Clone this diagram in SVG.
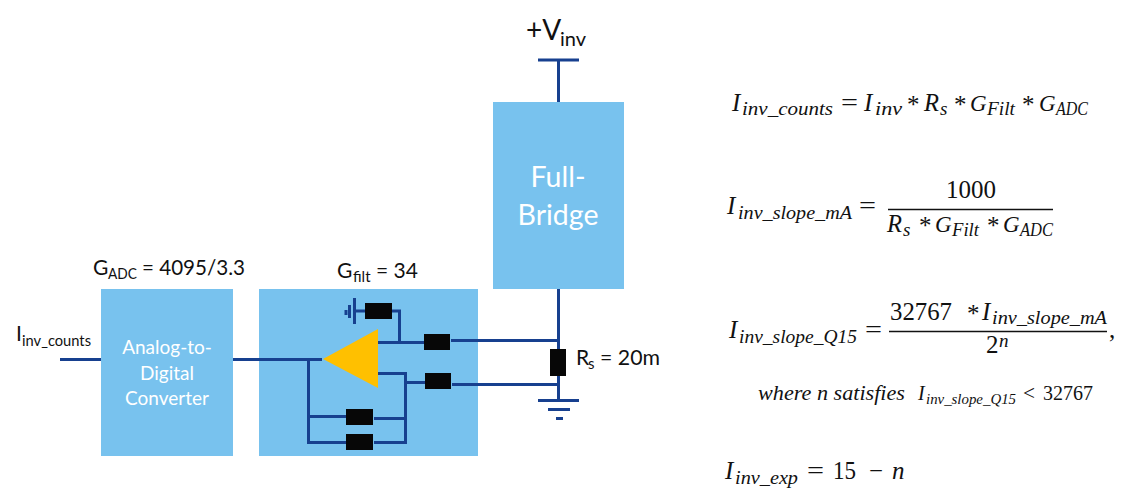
<svg xmlns="http://www.w3.org/2000/svg" width="1132" height="500" viewBox="0 0 1132 500">
<style>
.box{fill:#78c2ee}
.w{fill:none;stroke:#17408f;stroke-width:3}
.r{fill:#070707}
.t{font-family:Lato,"Open Sans",sans-serif;fill:#111}
.l{font-size:21px}
.s{font-size:15px}
.wt{font-family:Lato,"Open Sans",sans-serif;fill:#fff;text-anchor:middle}
.m{font-family:"Liberation Serif",serif;fill:#111}
.i{font-style:italic}
.b{font-size:25px}
.g{font-size:23px}
.u{font-size:19px}
.q{font-size:20px}
.v{font-size:15px}
.fl{stroke:#111;stroke-width:1.3}
</style>
<rect width="1132" height="500" fill="#fff"/>
<g id="adc"><rect class="box" x="101" y="289" width="132" height="167"/>
<text class="wt" font-size="19"><tspan x="167" y="354">Analog-to-</tspan><tspan x="167" y="380">Digital</tspan><tspan x="167" y="405">Converter</tspan></text></g>
<g id="filter"><rect class="box" x="259" y="289" width="219" height="167"/></g>
<g id="bridge"><rect class="box" x="493" y="102" width="131" height="187"/>
<text class="wt" font-size="28.500"><tspan x="558" y="187">Full-</tspan><tspan x="558" y="225">Bridge</tspan></text></g>
<g id="connectors" class="w">
<path d="M60 359.500H101M233 359.500H322"/>
<path d="M538 60H579M558.500 60V102"/>
<path d="M558.500 289V349M558.500 376V399"/>
<path d="M538 400.500H579M548 409.500H570M556 418.500H563"/>
<path d="M451 340.500H558M452 384.500H558"/>
<path d="M378 342.500H424M392 311H399.500V342.500"/>
<path d="M354.500 298V324M349.500 305V318M346 310V315M354.500 311H365"/>
<path d="M378 373.500H405.500V442.500H374M405.500 382.500H425M374 418.500H405.500"/>
<path d="M308.500 359.500V442.500H346M308.500 416.500H346"/>
</g>
<g id="amp"><polygon points="323,359 378,329 378,388" fill="#ffc000"/></g>
<g id="r-gnd"><rect class="r" x="365" y="303" width="27" height="16"/></g>
<g id="r-top"><rect class="r" x="424" y="334" width="26" height="16"/></g>
<g id="r-bottom"><rect class="r" x="425" y="373" width="26" height="16"/></g>
<g id="r-fb1"><rect class="r" x="346" y="409" width="27" height="16"/></g>
<g id="r-fb2"><rect class="r" x="346" y="434" width="27" height="16"/></g>
<g id="r-sense"><rect class="r" x="550" y="349" width="16" height="27"/></g>
<g id="labels">
<text class="t" x="526" y="40" font-size="28">+V</text><text class="t" x="560" y="46" font-size="20">inv</text>
<text class="t l" x="93" y="275">G</text><text class="t s" x="108" y="279" textLength="29" lengthAdjust="spacingAndGlyphs">ADC</text><text class="t l" x="142" y="275" textLength="103" lengthAdjust="spacingAndGlyphs">= 4095/3.3</text>
<text class="t l" x="337" y="278">G</text><text class="t s" x="353" y="282">filt</text><text class="t l" x="376" y="278">= 34</text>
<text class="t l" x="16" y="341">I</text><text class="t s" x="22" y="346" textLength="69" lengthAdjust="spacingAndGlyphs">inv_counts</text>
<text class="t l" x="576" y="365">R</text><text class="t s" x="588" y="369">s</text><text class="t l" x="600" y="365" textLength="60" lengthAdjust="spacingAndGlyphs">= 20m</text>
</g>
<g id="eq1">
<text class="m i b" x="732" y="111">I</text><text class="m i u" x="742" y="115" textLength="91" lengthAdjust="spacingAndGlyphs">inv_counts</text>
<text class="m b" x="841" y="111" textLength="17" lengthAdjust="spacingAndGlyphs">=</text>
<text class="m i b" x="864" y="111">I</text><text class="m i u" x="875" y="115" textLength="27" lengthAdjust="spacingAndGlyphs">inv</text>
<text class="m b" x="907" y="113">*</text>
<text class="m i b" x="924" y="111" textLength="15" lengthAdjust="spacingAndGlyphs">R</text><text class="m i u" x="940" y="115">s</text>
<text class="m b" x="954" y="113">*</text>
<text class="m i g" x="970" y="111">G</text><text class="m i u" x="987" y="115" textLength="28" lengthAdjust="spacingAndGlyphs">Filt</text>
<text class="m b" x="1022" y="113">*</text>
<text class="m i g" x="1039" y="111">G</text><text class="m i u" x="1056" y="115" textLength="32" lengthAdjust="spacingAndGlyphs">ADC</text>
</g>
<g id="eq2">
<text class="m i b" x="727" y="214">I</text><text class="m i u" x="738" y="219" textLength="114" lengthAdjust="spacingAndGlyphs">inv_slope_mA</text>
<text class="m b" x="859" y="214" textLength="17" lengthAdjust="spacingAndGlyphs">=</text>
<text class="m b" x="946" y="198" textLength="50" lengthAdjust="spacingAndGlyphs">1000</text>
<line class="fl" x1="888" y1="209.500" x2="1053" y2="209.500"/>
<text class="m i b" x="887" y="232" textLength="15" lengthAdjust="spacingAndGlyphs">R</text><text class="m i u" x="903" y="236">s</text>
<text class="m b" x="919" y="234">*</text>
<text class="m i g" x="935" y="232">G</text><text class="m i u" x="952" y="236" textLength="27" lengthAdjust="spacingAndGlyphs">Filt</text>
<text class="m b" x="987" y="234">*</text>
<text class="m i g" x="1003" y="232">G</text><text class="m i u" x="1020" y="236" textLength="33" lengthAdjust="spacingAndGlyphs">ADC</text>
</g>
<g id="eq3">
<text class="m i b" x="729" y="338">I</text><text class="m i u" x="739" y="343" textLength="118" lengthAdjust="spacingAndGlyphs">inv_slope_Q15</text>
<text class="m b" x="865" y="338" textLength="17" lengthAdjust="spacingAndGlyphs">=</text>
<text class="m b" x="890" y="320" textLength="62" lengthAdjust="spacingAndGlyphs">32767</text>
<text class="m b" x="967" y="322">*</text>
<text class="m i b" x="982" y="320">I</text><text class="m i u" x="992" y="324" textLength="115" lengthAdjust="spacingAndGlyphs">inv_slope_mA</text>
<line class="fl" x1="889" y1="331.500" x2="1107" y2="331.500"/>
<text class="m b" x="986" y="353">2</text><text class="m i u" x="999" y="347">n</text>
<text class="m b" x="1109" y="338">,</text>
</g>
<g id="eq3-where">
<text class="m i q" x="758" y="400" textLength="147" lengthAdjust="spacingAndGlyphs">where n satisfies</text>
<text class="m i q" x="918" y="400">I</text><text class="m i v" x="926" y="404" textLength="90" lengthAdjust="spacingAndGlyphs">inv_slope_Q15</text>
<text class="m q" x="1023" y="400" textLength="12" lengthAdjust="spacingAndGlyphs">&lt;</text>
<text class="m q" x="1043" y="400" textLength="50" lengthAdjust="spacingAndGlyphs">32767</text>
</g>
<g id="eq4">
<text class="m i b" x="725" y="479">I</text><text class="m i u" x="735" y="484" textLength="63" lengthAdjust="spacingAndGlyphs">inv_exp</text>
<text class="m b" x="807" y="479" textLength="17" lengthAdjust="spacingAndGlyphs">=</text>
<text class="m b" x="833" y="479" textLength="23" lengthAdjust="spacingAndGlyphs">15</text>
<text class="m b" x="869" y="479" textLength="14" lengthAdjust="spacingAndGlyphs">−</text>
<text class="m i b" x="892" y="479">n</text>
</g>
</svg>
